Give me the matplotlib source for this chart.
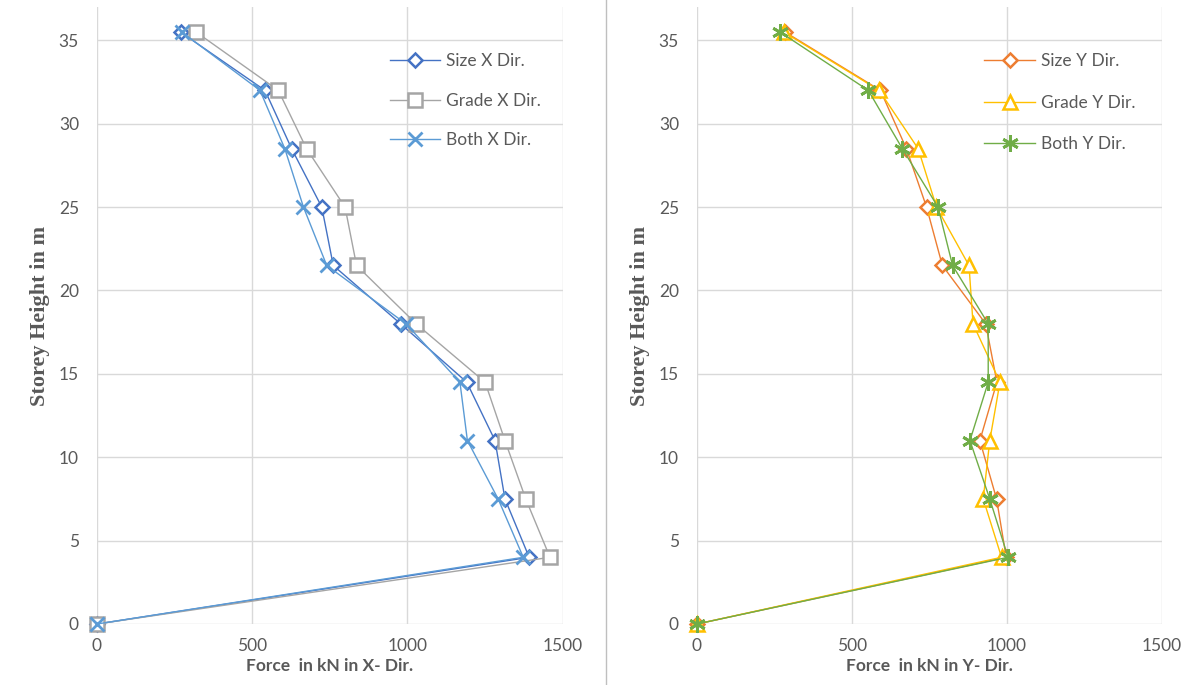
import matplotlib
matplotlib.use("Agg")
import matplotlib.pyplot as plt
from matplotlib.lines import Line2D

# ---- data ----
heights = [0, 4, 7.5, 11, 14.5, 18, 21.5, 25, 28.5, 32, 35.5]

size_x  = [0, 1392, 1314, 1282, 1191, 978, 761, 724, 627, 541, 269]
grade_x = [0, 1459, 1381, 1314, 1250, 1028, 836, 799, 675, 584, 319]
both_x  = [0, 1373, 1292, 1193, 1169, 995, 740, 665, 605, 525, 273]

size_y  = [0, 998, 967, 913, 968, 932, 792, 741, 676, 592, 284]
grade_y = [0, 983, 924, 945, 978, 891, 878, 773, 714, 588, 280]
both_y  = [0, 1004, 945, 881, 940, 940, 825, 778, 663, 553, 268]

x_ticks = [0, 500, 1000, 1500]
y_ticks = [0, 5, 10, 15, 20, 25, 30, 35]

W, H = 1187, 685
fig = plt.figure(figsize=(W / 100, H / 100), dpi=100)
fig.patch.set_facecolor("white")

TICK_C = "#595959"
GRID_C = "#D9D9D9"
FONT = ["Lato", "DejaVu Sans"]

def make_axes(left_px, right_px, top_px, bottom_px):
    return fig.add_axes([left_px / W, 1 - bottom_px / H,
                         (right_px - left_px) / W, (bottom_px - top_px) / H])

def style(ax, xlabel):
    ax.set_xlim(0, 1500)
    ax.set_ylim(0, 37)
    ax.set_xticks(x_ticks)
    ax.set_yticks(y_ticks)
    ax.grid(True, color=GRID_C, linewidth=1.0)
    ax.set_axisbelow(True)
    for s in ax.spines.values():
        s.set_visible(False)
    ax.tick_params(length=0, colors=TICK_C, labelsize=12.5)
    ax.tick_params(axis="y", pad=13)
    ax.tick_params(axis="x", pad=10)
    for lab in ax.get_xticklabels() + ax.get_yticklabels():
        lab.set_family(FONT)
    ax.set_xlabel(xlabel, family=FONT, fontweight="bold", fontsize=12.5,
                  color=TICK_C, labelpad=3)
    ax.set_ylabel("Storey Height in m", family=["Liberation Serif", "DejaVu Serif"],
                  fontweight="bold", fontsize=16, color=TICK_C, labelpad=6)

def series(ax, x, y, color, marker, ms, label, mew=1.8, lw=1.0):
    ax.plot(x, y, color=color, linewidth=lw, marker=marker, markersize=ms,
            markerfacecolor="white", markeredgecolor=color, markeredgewidth=mew,
            label=label, clip_on=False)

# Left panel
axL = make_axes(97, 562.7, 7, 624)
style(axL, "Force  in kN in X- Dir.")
series(axL, size_x, heights, "#4472C4", "D", 7.5, "Size X Dir.")
series(axL, grade_x, heights, "#A5A5A5", "s", 10.5, "Grade X Dir.")
series(axL, both_x, heights, "#5B9BD5", "x", 10.5, "Both X Dir.", mew=2.0)
legL = axL.legend(loc="upper left", bbox_to_anchor=(0.595, 0.95), frameon=False,
                  handlelength=2.9, handletextpad=0.35, labelspacing=1.35,
                  prop={"family": FONT, "size": 12.5})
for t in legL.get_texts():
    t.set_color(TICK_C)

# Right panel
axR = make_axes(697, 1161.7, 7, 624)
style(axR, "Force  in kN in Y- Dir.")
series(axR, size_y, heights, "#ED7D31", "D", 7.5, "Size Y Dir.")
series(axR, grade_y, heights, "#FFC000", "^", 10.5, "Grade Y Dir.")
series(axR, both_y, heights, "#70AD47", (6, 2, 0), 12, "Both Y Dir.", mew=2.0)
legR = axR.legend(loc="upper left", bbox_to_anchor=(0.585, 0.95), frameon=False,
                  handlelength=2.9, handletextpad=0.35, labelspacing=1.45,
                  prop={"family": FONT, "size": 12.5})
for t in legR.get_texts():
    t.set_color(TICK_C)

# divider between the two charts
fig.add_artist(Line2D([606 / W, 606 / W], [0, 1], color="#BFBFBF", linewidth=1.0))

fig.savefig("out.png", dpi=100, facecolor="white")
